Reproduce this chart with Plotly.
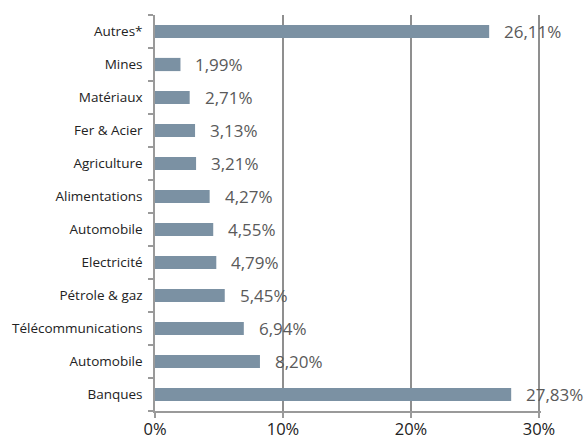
import plotly.graph_objects as go

categories = ["Autres*", "Mines", "Matériaux", "Fer & Acier", "Agriculture",
              "Alimentations", "Automobile", "Electricité", "Pétrole & gaz",
              "Télécommunications", "Automobile", "Banques"]
values = [26.11, 1.99, 2.71, 3.13, 3.21, 4.27, 4.55, 4.79, 5.45, 6.94, 8.20, 27.83]
value_labels = ["26,11%", "1,99%", "2,71%", "3,13%", "3,21%", "4,27%", "4,55%",
                "4,79%", "5,45%", "6,94%", "8,20%", "27,83%"]
x_ticks = [0, 10, 20, 30]
x_tick_labels = ["0%", "10%", "20%", "30%"]

n = len(categories)
ypos = list(range(n))

fig = go.Figure()
fig.add_trace(go.Bar(
    x=values, y=ypos, orientation="h", width=0.4,
    marker=dict(color="#7b91a3", line=dict(width=0)),
    hoverinfo="skip",
))
for v, y, t in zip(values, ypos, value_labels):
    fig.add_annotation(x=v, y=y, text=t, showarrow=False, xanchor="left",
                       xshift=13, font=dict(size=17, color="#5a5a5a",
                                            family="Open Sans"))

fig.update_layout(
    width=588, height=439,
    margin=dict(l=155, r=47, t=15, b=28),
    plot_bgcolor="white", paper_bgcolor="white",
    showlegend=False,
    font=dict(family="Open Sans", color="#222222"),
    xaxis=dict(range=[0, 30.16], tickvals=x_ticks, ticktext=x_tick_labels,
               automargin=False,
               showgrid=True, gridcolor="#8f8f8f", gridwidth=1.5,
               zeroline=False, showline=True, linecolor="#9a9a9a", linewidth=1.5,
               ticks="outside", ticklen=5, tickcolor="#9a9a9a", tickwidth=1.5,
               ticklabelstandoff=-3,
               tickfont=dict(size=16.5, color="#222222")),
    yaxis=dict(range=[n - 0.5, -0.5], tickvals=ypos, ticktext=categories,
               automargin=False,
               showgrid=False, zeroline=False, showline=True,
               linecolor="#9a9a9a", linewidth=1.5, ticks="",
               ticklabelstandoff=8,
               tickfont=dict(size=13.5, color="#222222"),
               minor=dict(tickvals=[i - 0.5 for i in range(n + 1)],
                          ticks="outside", ticklen=5, tickcolor="#9a9a9a",
                          tickwidth=1.5, showgrid=False)),
)
fig.write_html("out.html")
